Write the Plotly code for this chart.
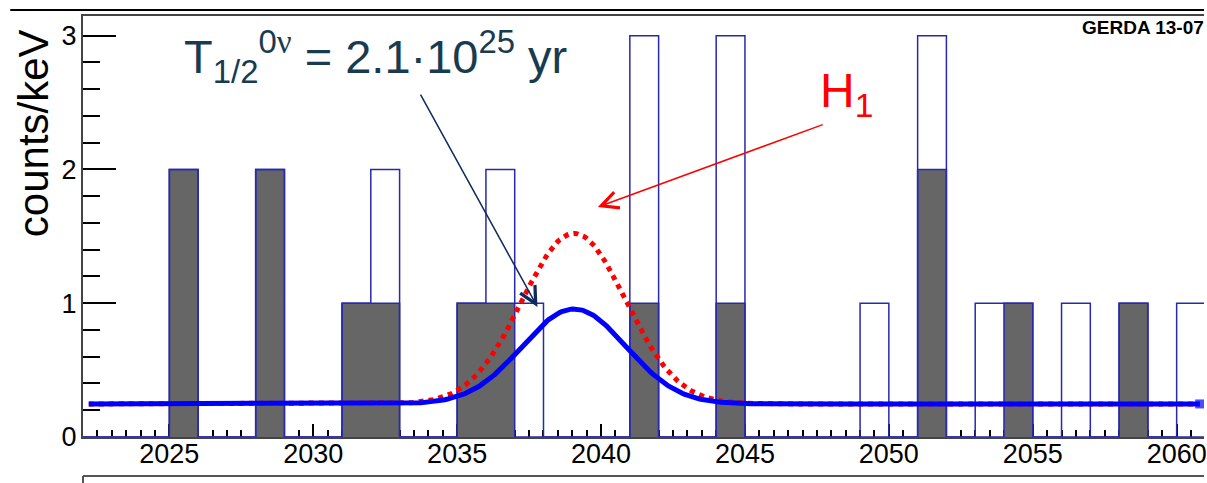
import numpy as np
import plotly.graph_objects as go

# ---- data ----
hist_lo, hist_hi = 2022, 2061          # histogram edges (1 keV bins)
open_bins = [2025, 2028, 2031, 2032, 2035, 2036, 2037, 2041, 2044, 2049, 2051, 2053, 2054, 2056, 2058, 2060]
open_counts = [2, 2, 1, 2, 1, 2, 1, 3, 3, 1, 3, 1, 1, 1, 1, 1]
filled_bins = [2025, 2028, 2031, 2032, 2035, 2036, 2041, 2044, 2051, 2054, 2058]
filled_counts = [2, 2, 1, 1, 1, 1, 1, 1, 2, 1, 1]

x_tick_vals = [2025, 2030, 2035, 2040, 2045, 2050, 2055, 2060]
y_tick_vals = [0, 1, 2, 3]

# fit model parameters (constant background + Gaussian line at Q_bb)
fit_lo, fit_hi = 2022.2, 2060.8
background = 0.247
q_bb = 2039.06
sigma = 1.8
amp_best = 0.71     # best fit (blue)
amp_h1 = 1.275      # H1 hypothesis (red dotted)

title_text = ("T<sub>1/2</sub><sup>0<span style=\"font-family:'Liberation Serif'\">ν</span></sup>"
              " = 2.1·10<sup>25</sup> yr")
h1_text = "H<sub>1</sub>"
tag_text = "<b>GERDA 13-07</b>"
y_title = "counts/keV"

# ---- build step histograms ----
edges = np.arange(hist_lo, hist_hi + 1)
def step_counts(bins, counts):
    c = np.zeros(len(edges) - 1)
    for b, v in zip(bins, counts):
        c[b - hist_lo] = v
    return np.append(c, c[-1])

open_y = step_counts(open_bins, open_counts)
filled_y = step_counts(filled_bins, filled_counts)

fx = np.linspace(fit_lo, fit_hi, 600)
gauss = np.exp(-0.5 * ((fx - q_bb) / sigma) ** 2)
blue_y = background + amp_best * gauss
red_y = background + amp_h1 * gauss

hist_line = "#2828b0"
fig = go.Figure()
fig.add_trace(go.Scatter(x=edges, y=filled_y, mode="lines", line=dict(shape="hv", color=hist_line, width=1.5),
                         fill="tozeroy", fillcolor="#666666", hoverinfo="skip"))
fig.add_trace(go.Scatter(x=edges, y=open_y, mode="lines", line=dict(shape="hv", color=hist_line, width=1.5),
                         hoverinfo="skip"))
fig.add_trace(go.Scatter(x=fx, y=red_y, mode="lines", line=dict(color="#ff0000", width=5, dash="5px,5px")))
msize = [0] * (len(fx) - 1) + [9]
fig.add_trace(go.Scatter(x=fx, y=blue_y, mode="lines+markers", line=dict(color="#0000ff", width=5),
                         marker=dict(symbol="square", size=msize, color="#0000ff", line=dict(width=0))))

font_family = "Liberation Sans, Arial, sans-serif"
fig.update_layout(
    width=1207, height=483,
    margin=dict(l=83, r=0, t=16, b=46),
    paper_bgcolor="white", plot_bgcolor="white",
    showlegend=False,
    font=dict(family=font_family, color="black"),
    xaxis=dict(range=[2022, 2060.95], tickvals=x_tick_vals, ticks="inside", ticklen=13, tickwidth=1.5,
               tickcolor="black", showgrid=False, zeroline=False, showline=True, mirror=True,
               linecolor="#444444", linewidth=2, layer="below traces", ticklabelstandoff=-8,
               ticklabeloverflow="allow",
               tickfont=dict(size=27, family=font_family, color="black"),
               minor=dict(dtick=0.5, tick0=2022, ticks="inside", ticklen=7, tickwidth=1.5, tickcolor="black", showgrid=False)),
    yaxis=dict(range=[0, 3.147], tickvals=y_tick_vals, ticks="inside", ticklen=33, tickwidth=1.5,
               tickcolor="black", showgrid=False, zeroline=False, showline=True,
               linecolor="#444444", linewidth=2, layer="below traces", ticklabelstandoff=-1,
               tickfont=dict(size=27, family=font_family, color="black"),
               minor=dict(dtick=0.2, tick0=0, ticks="inside", ticklen=17, tickwidth=1.5, tickcolor="black", showgrid=False)),
)

fig.add_annotation(text=y_title, xref="paper", yref="paper", x=-0.0445, y=0.722, textangle=-90,
                   showarrow=False, xanchor="center", yanchor="middle", font=dict(size=42, color="black"))
fig.add_annotation(text=title_text, xref="x", yref="y", x=2025.44, y=3.11, xanchor="left", yanchor="top",
                   showarrow=False, font=dict(size=47, color="#183b50"))
fig.add_annotation(text=h1_text, xref="x", yref="y", x=2047.55, y=2.8, xanchor="left", yanchor="top",
                   showarrow=False, font=dict(size=48, color="#ff0000"))
fig.add_annotation(text=tag_text, xref="paper", yref="paper", x=1.002, y=1.003, xanchor="right", yanchor="top",
                   showarrow=False, font=dict(size=19, color="black"))
# arrows
fig.add_annotation(x=2037.79, y=0.972, ax=2033.70, ay=2.571, axref="x", ayref="y", xref="x", yref="y",
                   text="", showarrow=True, arrowhead=5, arrowsize=2.2, arrowwidth=1.5, arrowcolor="#0e2a5c", standoff=0)
fig.add_annotation(x=2039.89, y=1.719, ax=2047.755, ay=2.339, axref="x", ayref="y", xref="x", yref="y",
                   text="", showarrow=True, arrowhead=5, arrowsize=2.2, arrowwidth=1.5, arrowcolor="#ff0000", standoff=0)

# slide frame lines
fig.add_shape(type="line", xref="paper", yref="paper", x0=-0.0649, x1=1.0, y0=1.01425, y1=1.01425,
              line=dict(color="black", width=2))
fig.add_shape(type="line", xref="paper", yref="paper", x0=0, x1=1.0, y0=-0.0926, y1=-0.0926,
              line=dict(color="#555555", width=2))
fig.add_shape(type="line", xref="paper", yref="paper", x0=0, x1=0, y0=-0.0926, y1=-0.11,
              line=dict(color="#555555", width=2))

fig.write_html("out.html", config={"displayModeBar": False},
               post_script="document.body.style.margin='0px';")
